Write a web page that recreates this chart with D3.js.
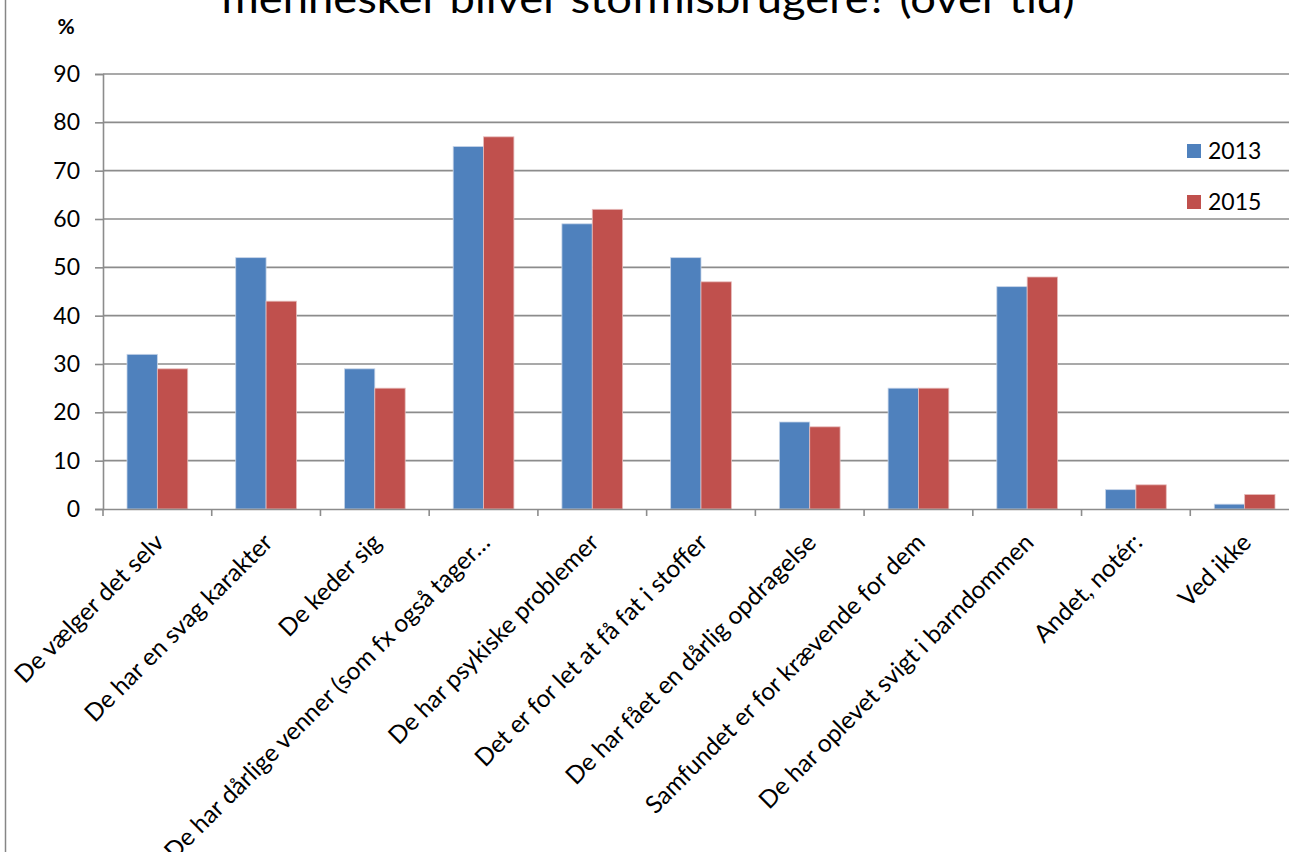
<!DOCTYPE html>
<html><head><meta charset="utf-8">
<script src="https://cdn.jsdelivr.net/npm/d3@7"></script>
<style>
html,body{margin:0;padding:0;background:#fff;overflow:hidden;}
svg text{font-family:"Lato","Open Sans",sans-serif;fill:#000;}
</style></head>
<body>
<svg id="chart" width="1289" height="852"></svg>
<script>
const categories = [
  "De vælger det selv",
  "De har en svag karakter",
  "De keder sig",
  "De har dårlige venner (som fx også tager…",
  "De har psykiske problemer",
  "Det er for let at få fat i stoffer",
  "De har fået en dårlig opdragelse",
  "Samfundet er for krævende for dem",
  "De har oplevet svigt i barndommen",
  "Andet, notér:",
  "Ved ikke"
];
const series2013 = [32, 52, 29, 75, 59, 52, 18, 25, 46, 4, 1];
const series2015 = [29, 43, 25, 77, 62, 47, 17, 25, 48, 5, 3];
const seriesNames = ["2013", "2015"];
const yTicks = [0, 10, 20, 30, 40, 50, 60, 70, 80, 90];
const titleText = "mennesker bliver stofmisbrugere? (over tid)";
const colors = ["#4F81BD", "#C0504D"];

(function () {
const svg = d3.select("#chart");
const W = 1289, H = 852;
const mLeft = 103, mRight = 1299, mTop = 74, mBottom = 509;

const x = d3.scaleBand().domain(categories).range([mLeft, mRight]).paddingInner(0).paddingOuter(0);
const y = d3.scaleLinear().domain([0, 90]).range([mBottom, mTop]);
const groupPad = 24;
const xs = d3.scaleBand().domain(seriesNames).range([groupPad, x.bandwidth() - groupPad]);

// outer border line on left
svg.append("line").attr("x1", 5.5).attr("x2", 5.5).attr("y1", 0).attr("y2", H)
  .attr("stroke", "#868686").attr("stroke-width", 1.5);

// title
svg.append("text").attr("x", 648).attr("y", 13).attr("text-anchor", "middle")
  .attr("font-size", 40).attr("textLength", 853).attr("lengthAdjust", "spacingAndGlyphs")
  .text(titleText);

// % label
svg.append("text").attr("x", 66).attr("y", 34).attr("text-anchor", "middle")
  .attr("font-size", 21).attr("font-weight", "bold").text("%");

// gridlines
svg.append("g").selectAll("line").data(yTicks.filter(d => d > 0)).join("line")
  .attr("x1", mLeft).attr("x2", W).attr("y1", d => y(d)).attr("y2", d => y(d))
  .attr("stroke", "#8c8c8c").attr("stroke-width", 1.6);

// y axis
const yAxis = d3.axisLeft(y).tickValues(yTicks).tickSize(8).tickPadding(15);
const gy = svg.append("g").attr("transform", `translate(${mLeft},0)`).call(yAxis);
gy.select(".domain").attr("stroke", "#8c8c8c").attr("stroke-width", 1.6);
gy.selectAll(".tick line").attr("stroke", "#8c8c8c").attr("stroke-width", 1.6);
gy.selectAll(".tick text").attr("font-size", 23).attr("font-family", "Lato, sans-serif").attr("fill", "#000");

// bars
const vals = [series2013, series2015];
const groups = svg.append("g").selectAll("g").data(categories).join("g")
  .attr("transform", d => `translate(${x(d)},0)`);
groups.each(function (c, i) {
  const g = d3.select(this);
  vals.forEach((arr, s) => {
    g.append("rect")
      .attr("x", xs(seriesNames[s]))
      .attr("y", y(arr[i]))
      .attr("width", xs.bandwidth())
      .attr("height", y(0) - y(arr[i]))
      .attr("fill", colors[s])
      .attr("stroke", s === 0 ? "#c6d4e8" : "#e6bcbb").attr("stroke-width", 0.8);
  });
});

// x axis
const xAxis = d3.axisBottom(x).tickSize(0).tickFormat("");
const gx = svg.append("g").attr("transform", `translate(0,${mBottom})`).call(xAxis);
gx.select(".domain").attr("stroke", "#8c8c8c").attr("stroke-width", 1.6);
const bounds = categories.map(c => x(c));
svg.append("g").selectAll("line").data(bounds).join("line")
  .attr("x1", d => d).attr("x2", d => d).attr("y1", mBottom).attr("y2", mBottom + 7)
  .attr("stroke", "#8c8c8c").attr("stroke-width", 1.6);

// category labels
svg.append("g").selectAll("text").data(categories).join("text")
  .attr("transform", d => `translate(${x(d) + x.bandwidth() / 2 + 8},${mBottom + 35}) rotate(-45)`)
  .attr("text-anchor", "end").attr("font-size", 24.5)
  .text(d => d);

// legend
const leg = svg.append("g").selectAll("g").data(seriesNames).join("g")
  .attr("transform", (d, i) => `translate(1187,${144 + i * 51})`);
leg.append("rect").attr("width", 14).attr("height", 14).attr("fill", (d, i) => colors[i]);
leg.append("text").attr("x", 21).attr("y", 15).attr("font-size", 23).text(d => d);
})();
</script>
</body></html>
